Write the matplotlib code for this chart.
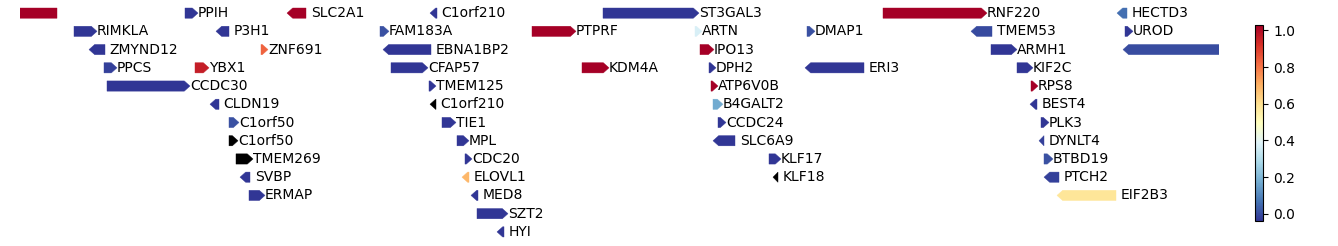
import numpy as np
import matplotlib
matplotlib.use("Agg")
import matplotlib.pyplot as plt
from matplotlib.patches import Polygon
from matplotlib.colors import Normalize
from matplotlib.cm import ScalarMappable

# gene track data (positions in kb from window start, row = track)
genes = ["FOXJ3", "PPIH", "SLC2A1", "C1orf210", "ST3GAL3", "RNF220", "HECTD3",
         "RIMKLA", "P3H1", "FAM183A", "PTPRF", "ARTN", "DMAP1", "TMEM53", "UROD",
         "ZMYND12", "ZNF691", "EBNA1BP2", "IPO13", "ARMH1", "ZSWIM5",
         "PPCS", "YBX1", "CFAP57", "KDM4A", "DPH2", "ERI3", "KIF2C",
         "CCDC30", "TMEM125", "ATP6V0B", "RPS8",
         "CLDN19", "C1orf210", "B4GALT2", "BEST4",
         "C1orf50", "TIE1", "CCDC24", "PLK3",
         "C1orf50", "MPL", "SLC6A9", "DYNLT4",
         "TMEM269", "CDC20", "KLF17", "BTBD19",
         "SVBP", "ELOVL1", "KLF18", "PTCH2",
         "ERMAP", "MED8", "EIF2B3",
         "SZT2",
         "HYI"]
starts = [-40, 165, 267, 410, 583, 863, 1097,
          54, 196, 360, 512, 675, 787, 951, 1105,
          69, 241, 363, 680, 971, 1103,
          84, 175, 371, 562, 689, 785, 997,
          87, 409, 691, 1011,
          190, 410, 693, 1010,
          209, 422, 698, 1021,
          209, 437, 693, 1019,
          216, 445, 749, 1024,
          220, 442, 753, 1024,
          229, 451, 1037,
          457,
          477]
ends = [37, 178, 286, 417, 679, 967, 1107,
        77, 209, 369, 556, 682, 795, 972, 1113,
        85, 248, 411, 694, 997, 1260,
        97, 189, 408, 589, 696, 844, 1013,
        170, 416, 698, 1018,
        199, 416, 703, 1017,
        219, 436, 706, 1029,
        218, 449, 715, 1024,
        233, 452, 761, 1033,
        230, 449, 758, 1039,
        245, 458, 1096,
        488,
        484]
strands = ["-", "+", "-", "-", "+", "+", "-",
           "+", "-", "+", "+", "+", "+", "-", "+",
           "-", "+", "-", "+", "+", "-",
           "+", "+", "+", "+", "+", "-", "+",
           "+", "+", "+", "+",
           "-", "-", "+", "-",
           "+", "+", "+", "+",
           "+", "+", "-", "-",
           "+", "+", "+", "+",
           "-", "-", "-", "-",
           "+", "-", "-",
           "+",
           "-"]
rows = [0] * 7 + [1] * 8 + [2] * 6 + [3] * 7 + [4] * 4 + [5] * 4 + [6] * 4 \
    + [7] * 4 + [8] * 4 + [9] * 4 + [10] * 3 + [11] + [12]
scores = [1.03, -0.04, 1.03, -0.04, -0.04, 1.03, 0.06,
          -0.04, -0.04, 0.01, 1.03, 0.37, 0.01, -0.005, -0.04,
          -0.04, 0.83, -0.04, 1.03, -0.04, 0.0,
          -0.02, 0.96, -0.04, 1.03, -0.04, -0.04, -0.04,
          -0.04, -0.04, 1.03, 1.03,
          -0.04, np.nan, 0.17, -0.04,
          0.01, -0.04, -0.04, -0.04,
          np.nan, -0.04, -0.04, -0.02,
          np.nan, -0.04, -0.04, 0.01,
          -0.04, 0.69, np.nan, -0.02,
          -0.04, -0.04, 0.58,
          -0.04,
          -0.04]

xmin, xmax = 0, 1199
n_rows = 13
bar_h = 0.56
head = 5.7  # kb

cmap = plt.get_cmap("RdYlBu_r").with_extremes(bad="black")
norm = Normalize(vmin=np.nanmin(scores), vmax=np.nanmax(scores))

fig = plt.figure(figsize=(13.38, 2.46), dpi=100)
ax = fig.add_axes([20 / 1338, 5 / 246, 1199 / 1338, 237 / 246])
ax.set_xlim(xmin, xmax)
ax.set_ylim(n_rows - 0.5, -0.5)
ax.axis("off")

for name, s, e, strand, r, v in zip(genes, starts, ends, strands, rows, scores):
    hl = min(head, e - s)
    y0, y1 = r - bar_h / 2, r + bar_h / 2
    if strand == "+":
        pts = [(s, y0), (e - hl, y0), (e, r), (e - hl, y1), (s, y1)]
    else:
        pts = [(e, y0), (s + hl, y0), (s, r), (s + hl, y1), (e, y1)]
    color = cmap(norm(v)) if not np.isnan(v) else "black"
    ax.add_patch(Polygon(pts, closed=True, facecolor=color, edgecolor=color,
                         linewidth=0.3))
    # only label genes fully inside the window
    if s >= xmin and e <= xmax:
        dx = 0 if strand == "+" else 3.4
        ax.annotate(name, (e, r), xytext=(dx, 0), textcoords="offset points",
                    ha="left", va="center", fontsize=10)

cax = fig.add_axes([1255.3 / 1338, 25 / 246, 8 / 1338, 196 / 246])
sm = ScalarMappable(norm=norm, cmap=cmap)
cb = fig.colorbar(sm, cax=cax)
cb.set_ticks([0.0, 0.2, 0.4, 0.6, 0.8, 1.0])
cb.ax.tick_params(labelsize=10)

fig.savefig("out.png", dpi=100)
